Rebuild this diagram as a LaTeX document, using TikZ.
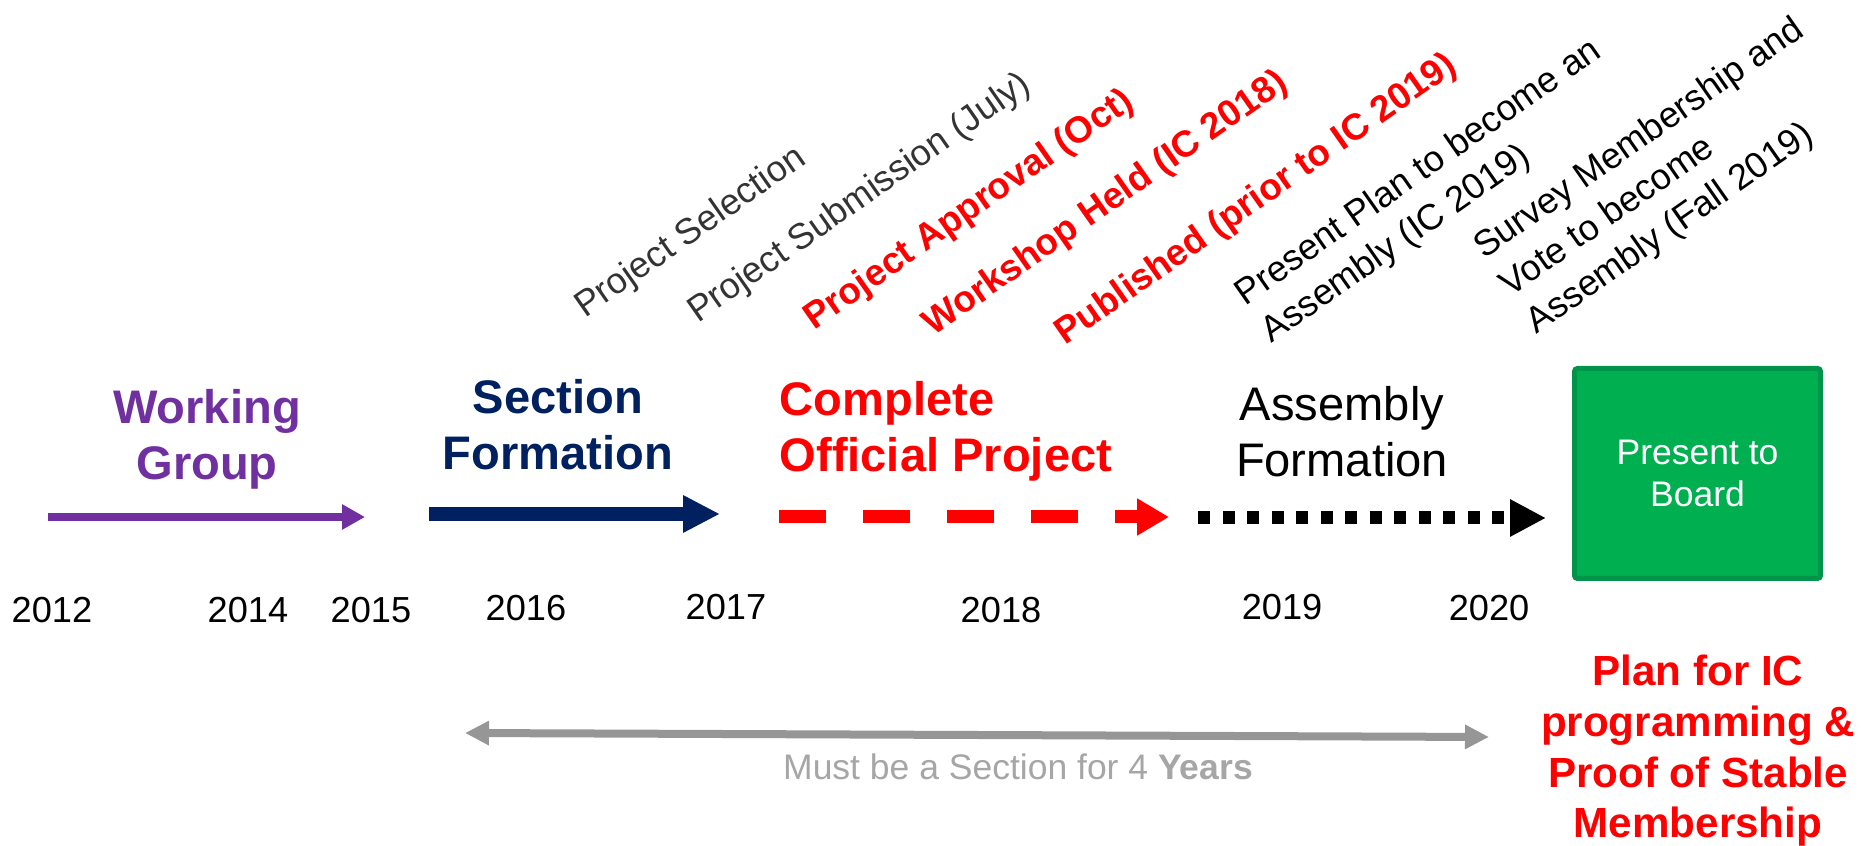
\documentclass[tikz,border=0pt]{standalone}
\usepackage{fontspec}
\setmainfont{Liberation Sans}
\usepackage{tikz}
\usetikzlibrary{arrows.meta}

\definecolor{wgpurple}{HTML}{7030A0}
\definecolor{sfnavy}{HTML}{002060}
\definecolor{boardgreen}{HTML}{00B050}
\definecolor{boardedge}{HTML}{00934A}
\definecolor{spangray}{HTML}{969696}
\definecolor{spantext}{HTML}{A6A6A6}
\definecolor{notegray}{HTML}{333333}

\tikzset{
  phase/.style={inner sep=0pt, anchor=base, align=center, font=\fontsize{13.4}{16.2}\selectfont\bfseries},
  yearlabel/.style={inner sep=0pt, anchor=base, font=\fontsize{10.3}{12}\selectfont},
  milestone/.style={inner sep=0pt, anchor=base west, rotate=35, align=left, font=\fontsize{10.3}{13}\selectfont},
  redbold/.style={text=red, font=\fontsize{10.5}{13}\selectfont\bfseries},
}

\begin{document}
\begin{tikzpicture}
    \useasboundingbox (0,0) rectangle (18.62,8.46);

    % Phase labels (base = last line)
    \node[phase, text=wgpurple] (wg) at (2.07,3.66) {Working\\Group};
    \node[phase, text=sfnavy] (sf) at (5.58,3.76) {Section\\Formation};
    \node[phase, text=red, anchor=base west, align=left] (op) at (7.79,3.74) {Complete\\Official Project};
    \node[phase, font=\fontsize{13.4}{16.2}\selectfont] (af) at (13.42,3.69) {Assembly\\Formation};

    % Timeline arrows
    \coordinate (wgs) at (0.48,3.29);
    \coordinate (wge) at (3.65,3.29);
    \coordinate (sfs) at (4.29,3.32);
    \coordinate (sfe) at (7.20,3.32);
    \coordinate (ops) at (7.79,3.29);
    \coordinate (ope) at (11.69,3.29);
    \coordinate (afs) at (11.98,3.28);
    \coordinate (afe) at (15.46,3.28);
    \draw[wgpurple, line width=0.08cm, -{Triangle[length=0.23cm,width=0.24cm]}] (wgs) -- (wge);
    \draw[sfnavy, line width=0.14cm, -{Triangle[length=0.37cm,width=0.35cm]}] (sfs) -- (sfe);
    \draw[red, line width=0.13cm, dash pattern=on 0.47cm off 0.37cm, -{Triangle[length=0.32cm,width=0.35cm]}] (ops) -- (ope);
    \draw[black, line width=0.13cm, dash pattern=on 0.12cm off 0.125cm, -{Triangle[length=0.36cm,width=0.35cm]}] (afs) -- (afe);

    % Years
    \node[yearlabel] (y12) at (0.52,2.23) {2012};
    \node[yearlabel] (y14) at (2.48,2.23) {2014};
    \node[yearlabel] (y15) at (3.71,2.23) {2015};
    \node[yearlabel] (y16) at (5.26,2.25) {2016};
    \node[yearlabel] (y17) at (7.26,2.26) {2017};
    \node[yearlabel] (y18) at (10.01,2.23) {2018};
    \node[yearlabel] (y19) at (12.82,2.26) {2019};
    \node[yearlabel] (y20) at (14.89,2.25) {2020};

    % Milestones
    \node[milestone, text=notegray] (m1) at (5.845,5.27) {Project Selection};
    \node[milestone, text=notegray] (m2) at (6.975,5.22) {Project Submission (July)};
    \node[milestone, redbold] (m3) at (8.14,5.15) {Project Approval (Oct)};
    \node[milestone, redbold] (m4) at (9.33,5.09) {Workshop Held (IC 2018)};
    \node[milestone, redbold] (m5) at (10.65,5.00) {Published (prior to IC 2019)};
    \node[milestone] (m6) at (12.71,5.02) {Present Plan to become an\\Assembly (IC 2019)};
    \node[milestone] (m7) at (15.36,5.11) {Survey Membership and\\Vote to become\\Assembly (Fall 2019)};

    % Board
    \node[draw=boardedge, line width=0.05cm, fill=boardgreen, rounded corners=0.03cm,
          minimum width=2.46cm, minimum height=2.10cm, text=white, align=center,
          font=\fontsize{10.1}{12}\selectfont] (board) at (16.975,3.725) {Present to\\Board};

    \node[inner sep=0pt, anchor=base, align=center, text=red,
          font=\fontsize{12}{14.5}\selectfont\bfseries] (plan) at (16.98,0.08)
          {Plan for IC\\programming \&\\Proof of Stable\\Membership};

    % Four year span
    \coordinate (sps) at (4.65,1.13);
    \coordinate (spe) at (14.89,1.09);
    \draw[spangray, line width=0.08cm, {Triangle[length=0.24cm,width=0.23cm]}-{Triangle[length=0.24cm,width=0.23cm]}] (sps) -- (spe);
    \node[inner sep=0pt, anchor=base, text=spantext, font=\fontsize{10.1}{12}\selectfont] (span) at (10.18,0.66)
          {Must be a Section for 4 \textbf{Years}};
\end{tikzpicture}
\end{document}
